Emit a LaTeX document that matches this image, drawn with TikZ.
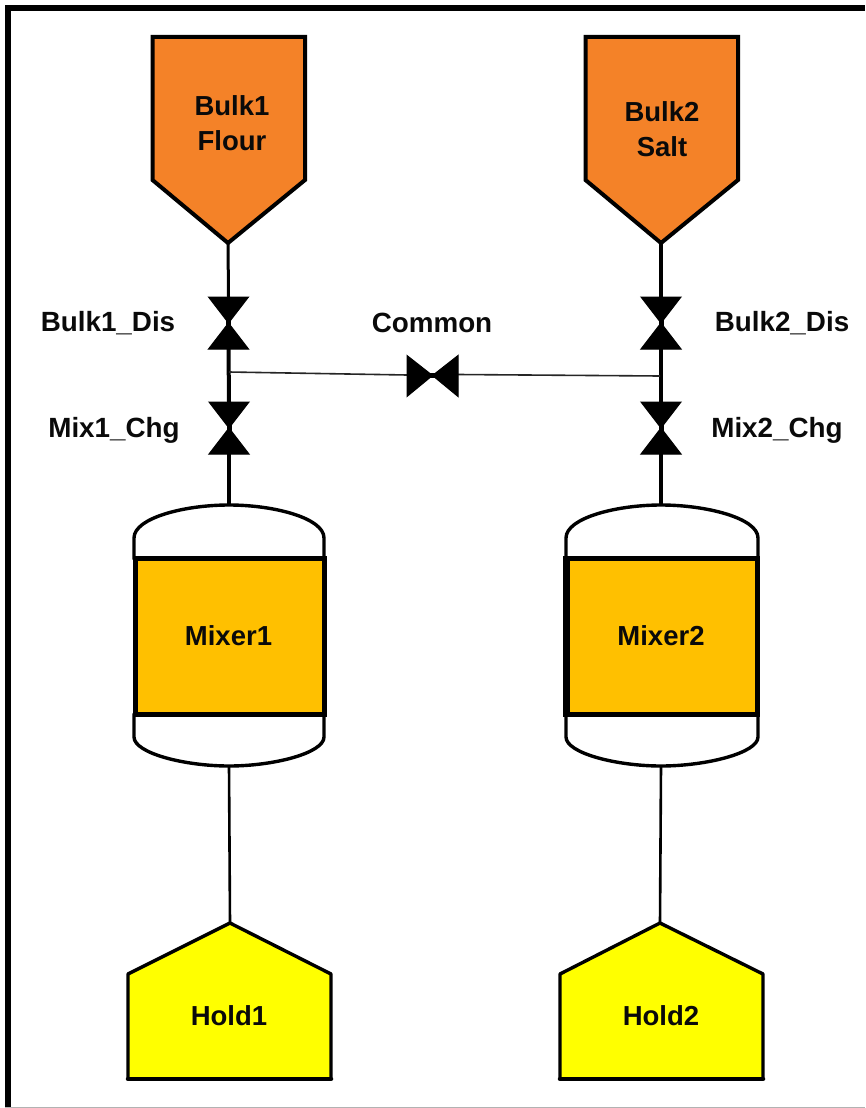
\documentclass[tikz,border=0pt]{standalone}
\usepackage{fontspec}
\setmainfont{Liberation Sans}
\definecolor{bulkorange}{HTML}{F48228}
\definecolor{mixamber}{HTML}{FFC000}
\definecolor{holdyellow}{HTML}{FFFF00}
\definecolor{inkblack}{HTML}{0A0A0A}
\tikzset{
  bigtext/.style={font=\bfseries\fontsize{27.5}{35}\selectfont,text=inkblack,align=center,inner sep=0pt},
  taglabel/.style={font=\bfseries\fontsize{27.8}{30}\selectfont,text=inkblack,inner sep=0pt},
  bulkshape/.style={draw=black,line width=4pt,fill=bulkorange,line join=miter},
  holdshape/.style={draw=black,line width=3.4pt,fill=holdyellow,line join=round},
  headshape/.style={draw=black,line width=3.4pt,fill=white},
  mixshape/.style={draw=black,fill=mixamber},
  valveshape/.style={fill=black,draw=black,line width=1pt,line join=miter},
}
\newcommand{\valveV}[3]{%
  \coordinate (#1) at (#2,#3);
  \coordinate (#1t) at (#2,#3-26);
  \coordinate (#1b) at (#2,#3+26);
  \path[valveshape] (#2-20,#3-26) -- (#2+20,#3-26) -- (#2,#3) -- cycle;
  \path[valveshape] (#2-20,#3+26) -- (#2+20,#3+26) -- (#2,#3) -- cycle;
  \draw[line width=5pt] (#2,#3-6) -- (#2,#3+6);
}
\newcommand{\vessel}[5]{% name, left, right, centre, label
  \coordinate (#1t) at (#4,505);
  \coordinate (#1b) at (#4,766);
  \path[headshape] (#2,558) -- (#2,538) .. controls (#2,518) and (#4-45,505) .. (#4,505)
     .. controls (#4+45,505) and (#3,518) .. (#3,538) -- (#3,558) -- cycle;
  \path[headshape] (#2,715) -- (#2,737) .. controls (#2,753) and (#4-45,766) .. (#4,766)
     .. controls (#4+45,766) and (#3,753) .. (#3,737) -- (#3,715) -- cycle;
}
\begin{document}
\begin{tikzpicture}[x=1pt,y=-1pt]
\useasboundingbox (0,0) rectangle (865,1108);
\fill[white] (0,0) rectangle (865,1108);
% frame
\fill[black] (5,5) rectangle (865,11);
\fill[black] (5,5) rectangle (11,1108);
\fill[black!30] (5,1106.5) rectangle (865,1108);

% connector end points
\coordinate (bulkAtip) at (228,243);
\coordinate (bulkBtip) at (661,243);
\coordinate (holdAtop) at (230,923);
\coordinate (holdBtop) at (660,923);
\coordinate (teeA) at (229,372);
\coordinate (teeB) at (660,376);
\coordinate (commonL) at (407,375);
\coordinate (commonR) at (458,374.5);

% pipes
\valveV{disA}{228.5}{323}
\valveV{chgA}{229}{428}
\valveV{disB}{661}{323}
\valveV{chgB}{661}{428}
\vessel{mixA}{134}{324}{229}{}
\vessel{mixB}{566}{758}{661}{}

\draw[line width=3pt] (bulkAtip) -- (disAt);
\draw[line width=4pt] (disAb) -- (chgAt);
\draw[line width=3.2pt] (chgAb) -- (mixAt);
\draw[line width=2.6pt] (mixAb) -- (holdAtop);
\draw[line width=4.5pt] (bulkBtip) -- (disBt);
\draw[line width=4pt] (disBb) -- (chgBt);
\draw[line width=4.5pt] (chgBb) -- (mixBt);
\draw[line width=2.6pt] (mixBb) -- (holdBtop);
\draw[line width=1.6pt,black!85] (teeA) -- (commonL);
\draw[line width=1.6pt,black!85] (commonR) -- (teeB);

% common valve
\path[valveshape] (407,355.5) -- (407,396.5) -- (432.5,375.5) -- cycle;
\path[valveshape] (458,355.5) -- (458,396.5) -- (432.5,375.5) -- cycle;
\draw[line width=5pt] (426,375.5) -- (439,375.5);

% bulk hoppers
\draw[bulkshape] (152.5,37) -- (305,37) -- (305,180) -- (228,243) -- (152.5,180) -- cycle;
\draw[bulkshape] (585.5,37) -- (738,37) -- (738,180) -- (661,243) -- (585.5,180) -- cycle;

% mixers
\draw[mixshape,line width=5pt] (135,558.5) rectangle (324,714.5);
\draw[mixshape,line width=5pt] (566,558.5) rectangle (757,714.5);
\draw[line width=7pt,draw=black] (566,556) -- (566,717);

% hold tanks
\draw[holdshape] (230,923) -- (331,974) -- (331,1079) -- (128,1079) -- (128,974) -- cycle;
\draw[holdshape] (660,923) -- (763,974) -- (763,1079) -- (560,1079) -- (560,974) -- cycle;
\draw[line width=4.5pt,line cap=round] (128,1079) -- (331,1079);
\draw[line width=4.5pt,line cap=round] (560,1079) -- (763,1079);

% labels
\node[bigtext] (bulkAname) at (232,123.5) {Bulk1\\Flour};
\node[bigtext] (bulkBname) at (662,129.5) {Bulk2\\Salt};
\node[bigtext] (mixAname) at (228.5,636) {Mixer1};
\node[bigtext] (mixBname) at (661,636) {Mixer2};
\node[bigtext] (holdAname) at (229,1016) {Hold1};
\node[bigtext] (holdBname) at (661,1016) {Hold2};
\node[taglabel] (disAlabel) at (108,323) {Bulk1\_Dis};
\node[taglabel] (chgAlabel) at (114,430) {Mix1\_Chg};
\node[taglabel] (commonlabel) at (432,323) {Common};
\node[taglabel] (disBlabel) at (782,323) {Bulk2\_Dis};
\node[taglabel] (chgBlabel) at (777,430) {Mix2\_Chg};
\end{tikzpicture}
\end{document}
